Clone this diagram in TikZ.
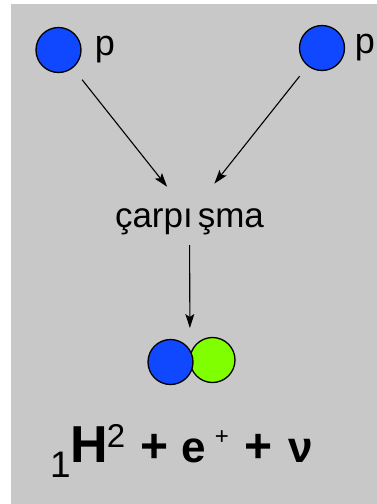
\documentclass[tikz,border=0pt]{standalone}
\usepackage{fontspec}
\setmainfont{Liberation Sans}
\usetikzlibrary{arrows.meta}
\definecolor{panel}{RGB}{200,200,200}
\definecolor{proton}{RGB}{16,72,255}
\definecolor{neutron}{RGB}{128,255,0}
\newcommand\fsz[1]{\fontsize{#1}{#1}\selectfont}

\begin{document}
\begin{tikzpicture}[x=1pt,y=-1pt,
  particle/.style={circle, draw=black, line width=1.3pt, inner sep=0pt, minimum size=45pt},
  arr/.style={-{Stealth[length=14pt,width=9pt,inset=3pt]}, line width=1.1pt},
  lbl/.style={inner sep=0pt, anchor=base}]
\useasboundingbox (0,0) rectangle (377,504);
\fill[white] (0,0) rectangle (377,504);
\fill[panel] (11,4) rectangle (377,504);

% two incoming protons
\node[particle, fill=proton] (p1) at (58.5,50) {};
\node[particle, fill=proton] (p2) at (322,48) {};
\node[lbl, font=\fsz{36}] (l1) at (105,55) {p};
\node[lbl, font=\fsz{36}] (l2) at (365,53) {p};

% collision label
\node[lbl, font=\fsz{35}] (hit) at (189.5,227) {çarpı\kern5ptşma};
\coordinate (hitc) at (189.5,215);

% resulting deuteron: neutron behind, proton in front
\node[particle, fill=neutron] (n3) at (212.5,360) {};
\node[particle, fill=proton] (p3) at (170.5,362) {};
\coordinate (d) at (190,361);

% arrows
\draw[arr, shorten <=38pt, shorten >=36pt] (p1.center) -- (hitc);
\draw[arr, shorten <=36pt, shorten >=40pt] (p2.center) -- (hitc);
\draw[arr, shorten <=30pt, shorten >=33pt] (hitc) -- (d);

% reaction products
\node[lbl, font=\fsz{37}] (f1) at (60.5,477) {1};
\node[lbl, font=\bfseries\fsz{52}] (f2) at (89,462) {H};
\node[lbl, font=\fsz{33}] (f3) at (116,447) {2};
\node[lbl, font=\bfseries\fsz{48}] (f4) at (155,462) {+};
\node[lbl, font=\bfseries\fsz{44}] (f5) at (193.5,462) {e};
\node[lbl, font=\fsz{24}] (f6) at (222,444) {+};
\node[lbl, font=\bfseries\fsz{48}] (f7) at (259,462) {+};
\node[lbl, font=\bfseries\fsz{44}] (f8) at (300.5,462) {ν};
\end{tikzpicture}
\end{document}
